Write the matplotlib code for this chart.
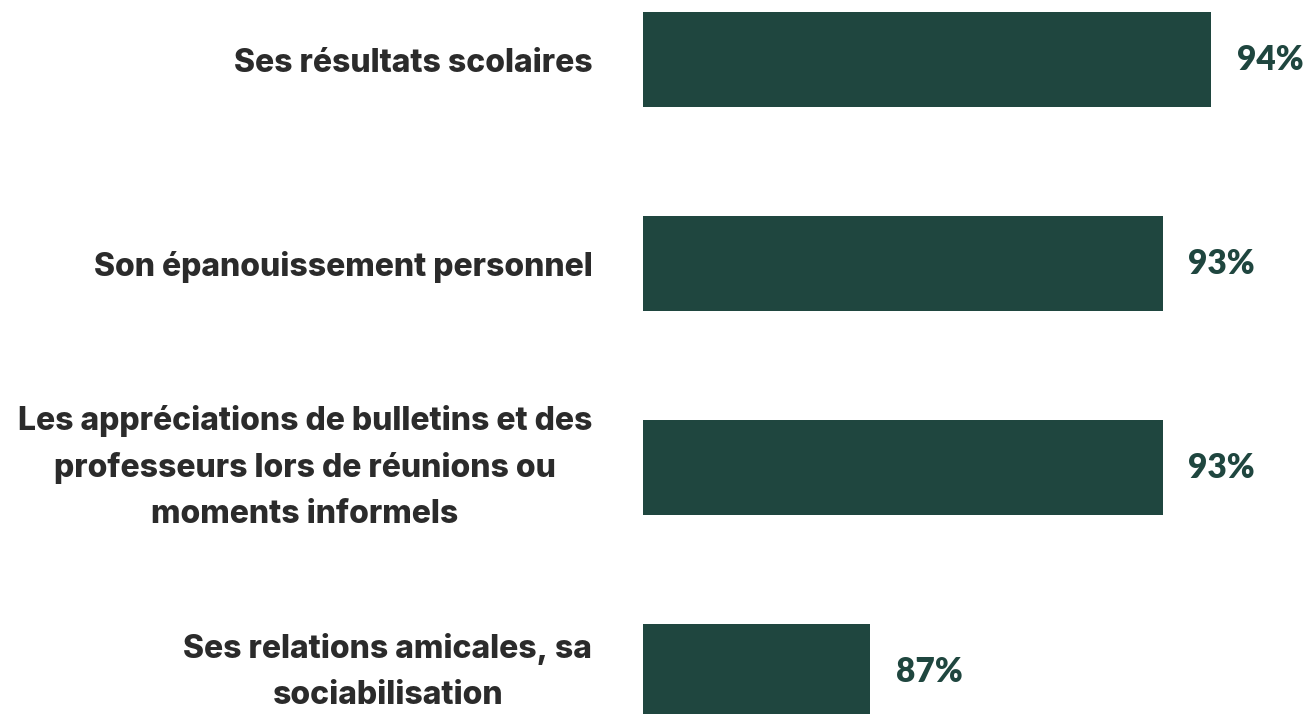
import matplotlib.pyplot as plt

categories = [
    "Ses résultats scolaires",
    "Son épanouissement personnel",
    "Les appréciations de bulletins et des\nprofesseurs lors de réunions ou\nmoments informels",
    "Ses relations amicales, sa\nsociabilisation",
]
values = [94, 93, 93, 87]

bar_color = "#1f463f"
text_color = "#2b2b2b"

fig = plt.figure(figsize=(13.11, 7.14), dpi=100)
ax = fig.add_axes([643 / 1311, 0, 668 / 1311, 1])

pos = list(range(len(categories)))
ax.barh(pos, values, height=0.466, color=bar_color)

ax.set_xlim(82.33, 96.05)
ax.set_ylim(3.208, -0.2917)

ax.set_yticks(pos)
labels = ax.set_yticklabels(categories, fontsize=23, fontweight="heavy",
                            family=["Inter", "DejaVu Sans"], color=text_color,
                            multialignment="center", linespacing=1.62)
# one-line labels sit on the baseline centre, wrapped ones on the box centre
for lab in labels:
    lab.set_va("center" if "\n" in lab.get_text() else "center_baseline")
ax.tick_params(axis="y", length=0, pad=36.5)
ax.set_xticks([])
for s in ax.spines.values():
    s.set_visible(False)

for p, v in zip(pos, values):
    ax.annotate(f"{v}%", (v, p), xytext=(18.5, 0), textcoords="offset points",
                ha="left", va="center", fontsize=24, fontweight="heavy",
                family=["Lato", "DejaVu Sans"], color=bar_color,
                annotation_clip=False)

fig.savefig("out.png", dpi=100)
